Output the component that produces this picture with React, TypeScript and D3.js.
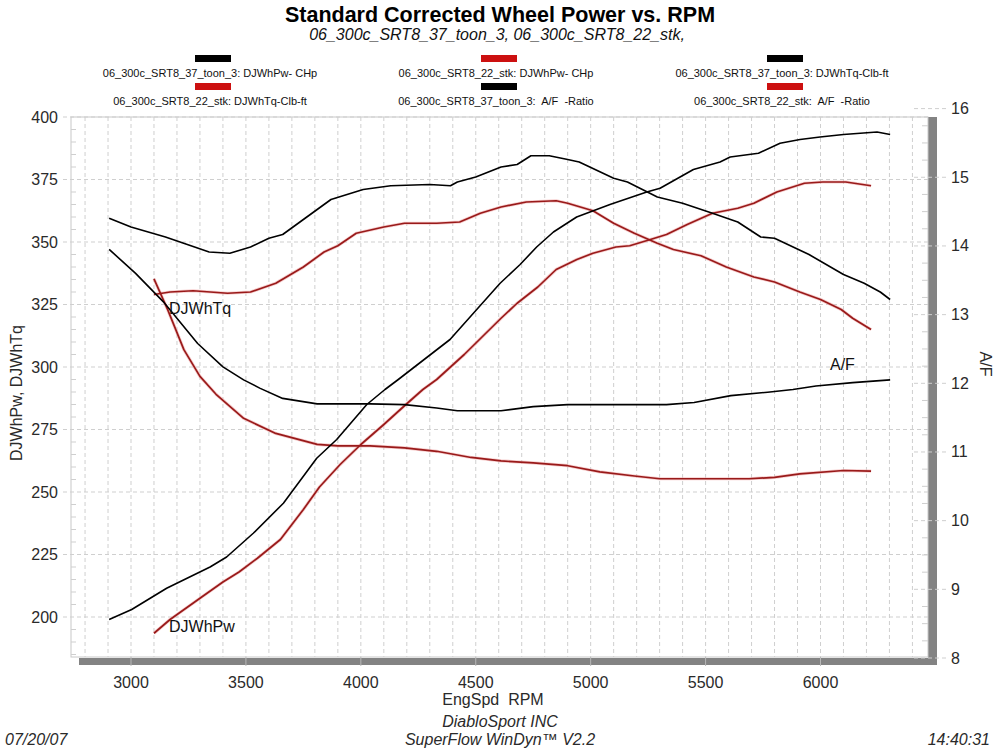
import React from "react";
import * as d3 from "d3";

// ---------- data ----------
const xTicks = [3000, 3500, 4000, 4500, 5000, 5500, 6000];
const leftTicks = [200, 225, 250, 275, 300, 325, 350, 375, 400];
const rightTicks = [8, 9, 10, 11, 12, 13, 14, 15, 16];

// 06_300c_SRT8_37_toon_3 : DJWhPw
const toonPwRpm = [2905, 3003, 3155, 3344, 3416, 3532, 3663, 3808, 3895, 4026, 4105, 4163, 4388, 4606, 4693, 4765, 4838, 4939, 5084, 5244, 5302, 5447, 5563, 5607, 5730, 5824, 5911, 5998, 6100, 6246, 6303];
const toonPw = [199, 203, 211.5, 220, 224, 233.5, 245.5, 263.5, 271, 285, 291, 295, 311, 333.5, 341, 348, 354, 360, 365, 370, 371.5, 379, 382, 384, 385.5, 389.5, 391, 392, 393, 394, 393];

// 06_300c_SRT8_37_toon_3 : DJWhTq
const toonTqRpm = [2905, 3000, 3150, 3340, 3430, 3520, 3600, 3660, 3750, 3870, 4010, 4130, 4300, 4390, 4420, 4500, 4610, 4680, 4740, 4820, 4900, 4950, 5100, 5160, 5290, 5400, 5530, 5640, 5740, 5800, 5950, 6100, 6190, 6260, 6303];
const toonTq = [359.5, 356, 352, 346, 345.5, 348, 351.5, 353, 359, 367, 371, 372.5, 373, 372.5, 374, 376, 380, 381, 384.5, 384.5, 383, 382, 375.5, 374, 368, 365.5, 361.5, 358, 352, 351.5, 345, 337, 333.5, 330, 327];

// 06_300c_SRT8_22_stk : DJWhPw
const stkPwRpm = [3100, 3170, 3300, 3400, 3470, 3550, 3650, 3750, 3820, 3910, 4000, 4100, 4190, 4270, 4330, 4450, 4610, 4680, 4770, 4850, 4940, 5010, 5110, 5170, 5260, 5330, 5420, 5530, 5640, 5710, 5810, 5930, 6010, 6110, 6220];
const stkPw = [193.5, 199, 207.5, 214, 218, 223.5, 231, 243, 252, 261, 269, 277, 284.5, 291, 295, 305, 319.5, 325.5, 332, 339, 343, 345.5, 348, 348.5, 351, 353, 357, 361.5, 363.5, 365.5, 370, 373.5, 374, 374, 372.5];

// 06_300c_SRT8_22_stk : DJWhTq
const stkTqRpm = [3100, 3170, 3270, 3420, 3520, 3630, 3750, 3840, 3900, 3980, 4100, 4190, 4330, 4430, 4520, 4610, 4720, 4850, 4900, 5010, 5100, 5190, 5290, 5360, 5480, 5590, 5710, 5800, 5910, 6000, 6090, 6140, 6220];
const stkTq = [329, 330, 330.5, 329.5, 330, 333.5, 340, 346, 348.5, 353.5, 356, 357.5, 357.5, 358, 361.5, 364, 366, 366.5, 365.5, 362.5, 357.5, 353.5, 349.5, 347, 344.5, 340, 336, 334, 330, 327, 323, 319.5, 315];

// 06_300c_SRT8_37_toon_3 : A/F
const toonAfRpm = [2905, 3020, 3140, 3290, 3400, 3490, 3560, 3660, 3810, 4040, 4190, 4330, 4420, 4610, 4750, 4900, 5330, 5450, 5610, 5770, 5880, 5980, 6140, 6303];
const toonAf = [13.95, 13.6, 13.19, 12.58, 12.24, 12.05, 11.93, 11.78, 11.7, 11.7, 11.69, 11.64, 11.6, 11.6, 11.66, 11.69, 11.69, 11.72, 11.82, 11.87, 11.91, 11.96, 12.01, 12.05];

// 06_300c_SRT8_22_stk : A/F
const stkAfRpm = [3100, 3160, 3230, 3300, 3370, 3490, 3630, 3810, 3900, 4040, 4190, 4330, 4480, 4610, 4750, 4900, 5040, 5190, 5300, 5690, 5800, 5910, 6100, 6220];
const stkAf = [13.52, 13.07, 12.49, 12.1, 11.84, 11.49, 11.27, 11.11, 11.09, 11.09, 11.06, 11.01, 10.92, 10.87, 10.84, 10.8, 10.71, 10.65, 10.61, 10.61, 10.63, 10.68, 10.73, 10.72];

const legendItems = [
  { text: "06_300c_SRT8_37_toon_3: DJWhPw- CHp", color: "black", col: 0, row: 0 },
  { text: "06_300c_SRT8_22_stk: DJWhPw- CHp", color: "red", col: 1, row: 0 },
  { text: "06_300c_SRT8_37_toon_3: DJWhTq-Clb-ft", color: "black", col: 2, row: 0 },
  { text: "06_300c_SRT8_22_stk: DJWhTq-Clb-ft", color: "red", col: 0, row: 1 },
  { text: "06_300c_SRT8_37_toon_3:  A/F  -Ratio", color: "black", col: 1, row: 1 },
  { text: "06_300c_SRT8_22_stk:  A/F  -Ratio", color: "red", col: 2, row: 1 },
];

// ---------- layout ----------
const W = 1000;
const H = 748;
const plotL = 71;
const plotR = 928;
const plotT = 117;
const plotB = 657;
const FONT = "'Liberation Sans', Arial, Helvetica, sans-serif";
const BLACK = "#000000";
const RED = "#991a1a";
const RED_SW = "#cc1010";
const GRID = "#cfcfcf";
const SHADOW = "#838383";
const TXT = "#2a2a2a";
const PRE = { whiteSpace: "pre" as const };

const x = d3.scaleLinear().domain([3000, 6000]).range([131, 820.5]);
const yL = d3.scaleLinear().domain([200, 400]).range([617, 117]);
const yR = d3.scaleLinear().domain([8, 16]).range([658, 108.6]);

function zip(a: number[], b: number[]): [number, number][] {
  return a.map((v, i) => [v, b[i]]);
}

const lineL = d3
  .line<[number, number]>()
  .x((d) => x(d[0]))
  .y((d) => yL(d[1]));
const lineR = d3
  .line<[number, number]>()
  .x((d) => x(d[0]))
  .y((d) => yR(d[1]));

export default function App() {
  const vGrid = d3.range(2800, 6401, 100);
  const leftMinor = d3.range(185, 400, 5).filter((v) => v % 25 !== 0);
  const rightMinor = d3.range(8, 16.01, 0.25).filter((v) => Math.abs(v - Math.round(v)) > 0.01);
  const colX = [213, 499, 785];
  const rowSwY = [55, 83];
  const rowTxY = [77, 105];

  const blackPaths = [lineL(zip(toonPwRpm, toonPw)), lineL(zip(toonTqRpm, toonTq)), lineR(zip(toonAfRpm, toonAf))];
  const redPaths = [lineL(zip(stkPwRpm, stkPw)), lineL(zip(stkTqRpm, stkTq)), lineR(zip(stkAfRpm, stkAf))];

  return (
    <svg
      width={W}
      height={H}
      viewBox={`0 0 ${W} ${H}`}
      style={{ position: "absolute", left: 0, top: 0, background: "#fff" }}
      fontFamily={FONT}
    >
      <rect x={0} y={0} width={W} height={H} fill="#fff" />
      {/* titles */}
      <text x={500} y={22} textAnchor="middle" fontSize={21.5} fontWeight="bold" fill="#000">
        Standard Corrected Wheel Power vs. RPM
      </text>
      <text x={497} y={40} textAnchor="middle" fontSize={16} fontStyle="italic" fill="#111">
        06_300c_SRT8_37_toon_3, 06_300c_SRT8_22_stk,
      </text>

      {/* legend */}
      {legendItems.map((it, i) => (
        <g key={i}>
          <rect x={colX[it.col] - 18} y={rowSwY[it.row]} width={36} height={7} fill={it.color === "red" ? RED_SW : "#000"} />
          <text x={colX[it.col] - 3} y={rowTxY[it.row]} textAnchor="middle" fontSize={11} fill="#111" style={PRE}>
            {it.text}
          </text>
        </g>
      ))}

      {/* shadow bars */}
      <rect x={79} y={plotB + 1} width={937 - 79} height={7} fill={SHADOW} />
      <rect x={plotR} y={plotT} width={9} height={plotB + 8 - plotT} fill={SHADOW} />

      {/* plot frame */}
      <rect x={plotL} y={plotT} width={plotR - plotL} height={plotB - plotT} fill="#fff" stroke="#c8c8c8" strokeWidth={1} />

      {/* vertical grid */}
      {vGrid.map((r) => (
        <line key={"v" + r} x1={x(r)} x2={x(r)} y1={plotT} y2={plotB} stroke={GRID} strokeDasharray="4,3" strokeWidth={1} />
      ))}
      {xTicks.map((r) => (
        <line key={"xt" + r} x1={x(r)} x2={x(r)} y1={plotB} y2={plotB + 9} stroke="#b8b8b8" strokeWidth={1} />
      ))}
      {/* horizontal grid */}
      {leftTicks.map((v) => (
        <line key={"h" + v} x1={63} x2={plotR} y1={yL(v)} y2={yL(v)} stroke={GRID} strokeDasharray="4,3" strokeWidth={1} />
      ))}
      {leftMinor.map((v) => (
        <line key={"lm" + v} x1={plotL} x2={plotL + 5} y1={yL(v)} y2={yL(v)} stroke={GRID} strokeWidth={1} />
      ))}
      {rightMinor.map((v) => (
        <line key={"rm" + v} x1={plotR - 6} x2={plotR} y1={yR(v)} y2={yR(v)} stroke={GRID} strokeWidth={1} />
      ))}
      {rightTicks.map((v) => (
        <line key={"rt" + v} x1={plotR - 14} x2={946} y1={yR(v)} y2={yR(v)} stroke={GRID} strokeDasharray="4,3" strokeWidth={1} />
      ))}

      {/* curves */}
      {redPaths.map((p, i) => (
        <path key={"rh" + i} d={p || ""} fill="none" stroke="#f2b8b8" strokeWidth={3.2} strokeLinejoin="round" opacity={0.7} />
      ))}
      {redPaths.map((p, i) => (
        <path key={"r" + i} d={p || ""} fill="none" stroke={RED} strokeWidth={1.7} strokeLinejoin="round" />
      ))}
      {blackPaths.map((p, i) => (
        <path key={"b" + i} d={p || ""} fill="none" stroke={BLACK} strokeWidth={1.6} strokeLinejoin="round" />
      ))}

      {/* curve labels */}
      <text x={169} y={314} fontSize={16} fill="#111">DJWhTq</text>
      <text x={169} y={632} fontSize={16} fill="#111">DJWhPw</text>
      <text x={830} y={370} fontSize={16} fill="#111">A/F</text>

      {/* left axis labels */}
      {leftTicks.map((v) => (
        <text key={"lt" + v} x={58} y={yL(v) + 5.5} textAnchor="end" fontSize={16} fill={TXT}>
          {v}
        </text>
      ))}
      {/* right axis labels */}
      {rightTicks.map((v) => (
        <text key={"rtx" + v} x={951} y={yR(v) + 5.5} textAnchor="start" fontSize={16} fill={TXT}>
          {v}
        </text>
      ))}
      {/* x axis labels */}
      {xTicks.map((r) => (
        <text key={"xl" + r} x={x(r)} y={688} textAnchor="middle" fontSize={16} fill={TXT}>
          {r}
        </text>
      ))}
      <text x={493} y={705} textAnchor="middle" fontSize={16} fill={TXT} style={PRE}>
        {"EngSpd  RPM"}
      </text>
      <text transform="translate(22,393) rotate(-90)" textAnchor="middle" fontSize={16} fill={TXT}>
        DJWhPw, DJWhTq
      </text>
      <text transform="translate(980,364) rotate(90)" textAnchor="middle" fontSize={16} fill={TXT}>
        A/F
      </text>

      {/* footer */}
      <text x={500} y={727} textAnchor="middle" fontSize={16} fontStyle="italic" fill={TXT}>
        DiabloSport INC
      </text>
      <text x={500} y={745} textAnchor="middle" fontSize={16} fontStyle="italic" fill={TXT}>
        SuperFlow WinDyn™ V2.2
      </text>
      <text x={5} y={745} textAnchor="start" fontSize={16} fontStyle="italic" fill={TXT}>
        07/20/07
      </text>
      <text x={990} y={745} textAnchor="end" fontSize={16} fontStyle="italic" fill={TXT}>
        14:40:31
      </text>
    </svg>
  );
}
